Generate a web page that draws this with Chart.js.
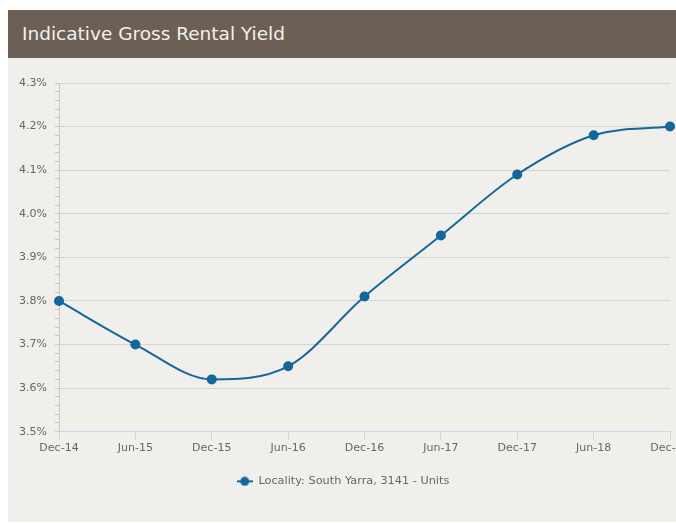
<!DOCTYPE html>
<html>
<head>
<meta charset="utf-8">
<script src="https://cdn.jsdelivr.net/npm/chart.js@4/dist/chart.umd.min.js"></script>
<style>
  html, body { margin: 0; padding: 0; background: #fff; overflow: hidden; }
  .head {
    position: absolute; left: 8px; top: 10px; width: 668px; height: 48px;
    background: #6c6056; color: #f3f1ed;
    font-family: "DejaVu Sans", sans-serif; font-size: 18.5px;
    line-height: 48px; padding-left: 14px; box-sizing: border-box;
  }
  .panel {
    position: absolute; left: 8px; top: 58px; width: 668px; height: 464px;
    background: #f0efeb; overflow: hidden;
  }
  .panel canvas { position: absolute; left: 0; top: 0; }
</style>
</head>
<body>
<div class="head">Indicative Gross Rental Yield</div>
<div class="panel"><canvas id="yield" width="670" height="464"></canvas></div>
<script>
const periods = ['Dec-14', 'Jun-15', 'Dec-15', 'Jun-16', 'Dec-16', 'Jun-17', 'Dec-17', 'Jun-18', 'Dec-18'];
const yieldPct = [3.80, 3.70, 3.62, 3.65, 3.81, 3.95, 4.09, 4.18, 4.20];
const seriesName = 'Locality: South Yarra, 3141 - Units';

const lineColor = '#12679b';

// legend icon: short line with a dot in the middle
const icon = document.createElement('canvas');
icon.width = 16; icon.height = 10;
(function () {
  const c = icon.getContext('2d');
  c.strokeStyle = lineColor; c.lineWidth = 2;
  c.beginPath(); c.moveTo(0, 5); c.lineTo(16, 5); c.stroke();
  c.fillStyle = lineColor;
  c.beginPath(); c.arc(8, 5, 4.5, 0, Math.PI * 2); c.fill();
})();

const isMajor = v => Math.abs(v * 10 - Math.round(v * 10)) < 1e-6;

new Chart(document.getElementById('yield'), {
  type: 'line',
  data: {
    labels: periods,
    datasets: [{
      label: seriesName,
      data: yieldPct,
      borderColor: lineColor,
      backgroundColor: lineColor,
      borderWidth: 2,
      pointRadius: 5,
      pointHoverRadius: 5,
      pointBackgroundColor: lineColor,
      pointBorderWidth: 0,
      cubicInterpolationMode: 'monotone',
      pointStyle: 'circle',
      clip: false
    }]
  },
  options: {
    responsive: false,
    animation: false,
    layout: { padding: { top: 25, left: 0, right: 0, bottom: 25 } },
    plugins: {
      tooltip: { enabled: false },
      legend: {
        position: 'bottom',
        labels: {
          usePointStyle: true,
          pointStyle: icon,
          pointStyleWidth: 16,
          color: '#666',
          font: { family: 'DejaVu Sans', size: 11.3 },
          padding: 14
        }
      }
    },
    scales: {
      x: {
        offset: false,
        grid: { drawOnChartArea: false, tickLength: 8, color: '#ccd6eb' },
        border: { color: '#ccd6eb' },
        ticks: {
          color: '#666', padding: 2, maxRotation: 0, autoSkip: false,
          font: { family: 'DejaVu Sans', size: 11 }
        },
        // let the last label run past the edge instead of shrinking the plot
        afterFit: s => { s.height = 30; s.paddingRight = 8; }
      },
      y: {
        min: 3.5, max: 4.3,
        grid: {
          color: ctx => isMajor(ctx.tick.value) ? '#d4d4d4' : 'rgba(0,0,0,0)',
          tickColor: '#c8c8c8',
          tickLength: 4
        },
        border: { color: '#c8c8c8' },
        ticks: {
          stepSize: 0.02, maxTicksLimit: 1000, autoSkip: false,
          color: '#666', padding: 8,
          font: { family: 'DejaVu Sans', size: 11 },
          callback: v => isMajor(v) ? v.toFixed(1) + '%' : ''
        },
        afterFit: s => { s.width = 51; }
      }
    }
  }
});
</script>
</body>
</html>
